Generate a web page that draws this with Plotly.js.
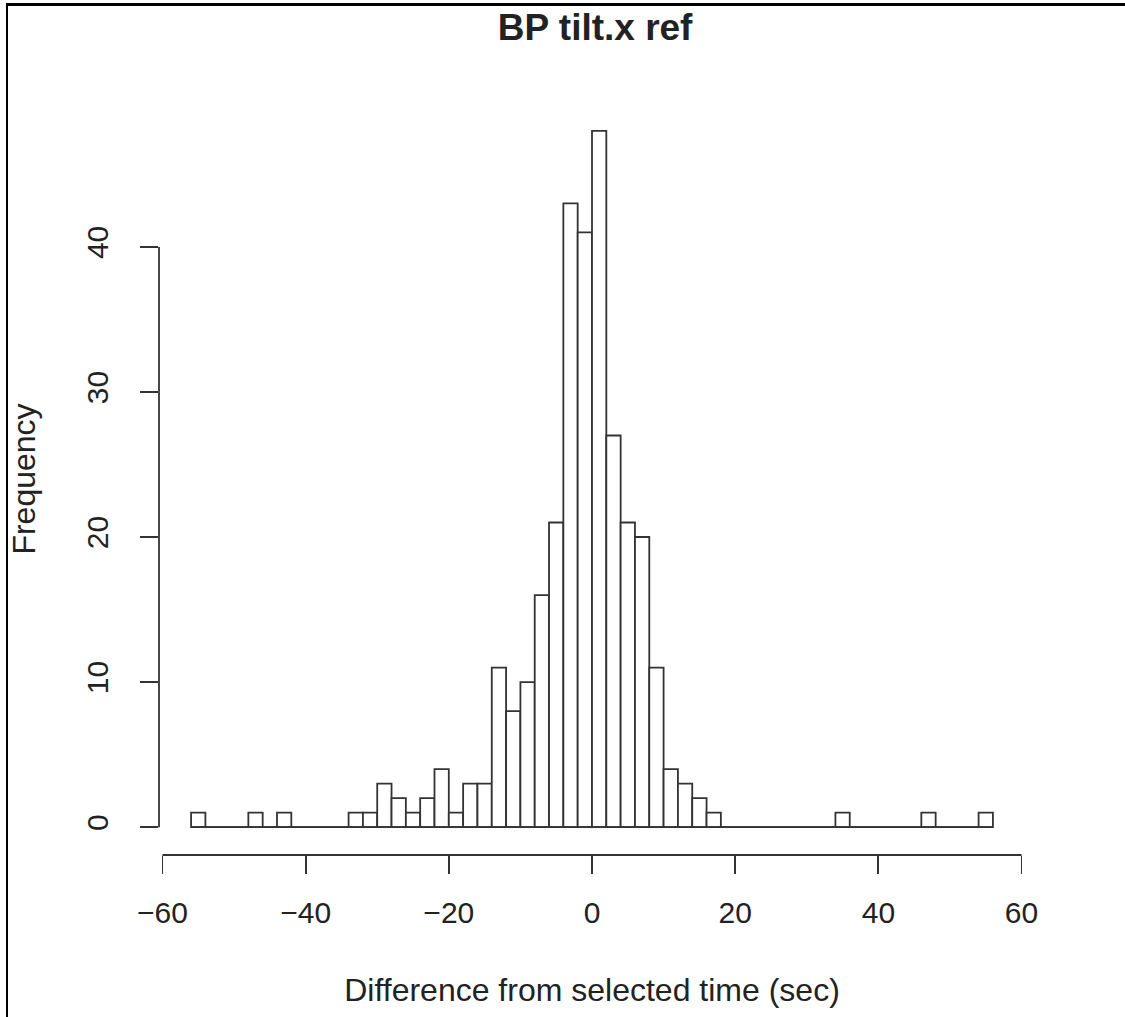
<!DOCTYPE html>
<html>
<head>
<meta charset="utf-8">
<script src="https://cdn.plot.ly/plotly-3.0.1.min.js"></script>
<style>
  html, body { margin: 0; padding: 0; background: #fff; }
  #wrap { position: relative; width: 1125px; height: 1017px; overflow: hidden; }
  #chart { width: 1125px; height: 1017px; }
  #frame { position: absolute; left: 6px; top: 3px; width: 1200px; height: 1100px;
           border-top: 3px solid #000; border-left: 2px solid #000; pointer-events: none; }
</style>
</head>
<body>
<div id="wrap">
  <div id="chart"></div>
  <div id="frame"></div>
</div>
<script>
// Histogram bins (left edges, width 2 sec) and counts
const binStarts = [-56,-54,-52,-50,-48,-46,-44,-42,-40,-38,-36,-34,-32,-30,-28,-26,-24,-22,-20,-18,-16,-14,-12,-10,-8,-6,-4,-2,
                   0,2,4,6,8,10,12,14,16,18,20,22,24,26,28,30,32,34,36,38,40,42,44,46,48,50,52,54];
const counts    = [1,0,0,0,1,0,1,0,0,0,0,1,1,3,2,1,2,4,1,3,3,11,8,10,16,21,43,41,
                   48,27,21,20,11,4,3,2,1,0,0,0,0,0,0,0,0,1,0,0,0,0,0,1,0,0,0,1];
const binWidth = 2;
const xTicks = [-60,-40,-20,0,20,40,60];
const yTicks = [0,10,20,30,40];
const titleText = "BP tilt.x ref";
const xTitle = "Difference from selected time (sec)";
const yTitle = "Frequency";

const ink = "#222";
const fontFam = "'Liberation Sans', Arial, Helvetica, sans-serif";
const xMin = binStarts[0], xMax = binStarts[binStarts.length-1] + binWidth;
const xPad = (xMax - xMin) * 0.04;
const yMaxData = Math.max(...counts);
const yPad = yMaxData * 0.04;

const traces = [
  {
    type: 'scatter', mode: 'lines',
    x: [xMin, xMax], y: [0, 0],
    line: {color: '#333', width: 1.8},
    hoverinfo: 'skip', showlegend: false
  },
  {
    type: 'bar',
    x: binStarts, y: counts,
    width: binWidth, offset: 0,
    marker: {color: '#ffffff', line: {color: '#333', width: 1.8}},
    showlegend: false
  }
];

const layout = {
  width: 1125, height: 1017,
  paper_bgcolor: '#fff', plot_bgcolor: '#fff',
  margin: {l: 158.6, r: 99.6, t: 103.2, b: 162.2, pad: 0},
  font: {family: fontFam, size: 30, color: ink},
  bargap: 0,
  title: {
    text: titleText,
    font: {family: fontFam, size: 37, color: ink, weight: 'bold'},
    x: 0.529, xanchor: 'center',
    y: 1 - 27/1017, yref: 'container', yanchor: 'middle'
  },
  xaxis: {
    range: [xMin - xPad, xMax + xPad],
    tickmode: 'array', tickvals: xTicks, ticktext: xTicks.map(v => v < 0 ? '\u2212' + Math.abs(v) : String(v)),
    ticks: 'outside', ticklen: 18, tickwidth: 1.8, tickcolor: '#333',
    ticklabelstandoff: 13,
    showline: false, showgrid: false, zeroline: false,
    tickfont: {size: 30, color: ink},
    title: {text: xTitle, font: {size: 32, color: ink}, standoff: 50},
    automargin: false, fixedrange: true
  },
  yaxis: {
    range: [-yPad, yMaxData + yPad],
    tickmode: 'array', tickvals: yTicks, ticktext: yTicks.map(String),
    ticks: 'outside', ticklen: 18, tickwidth: 1.8, tickcolor: '#333',
    tickangle: -90, ticklabelstandoff: 20,
    showline: false, showgrid: false, zeroline: false,
    tickfont: {size: 30, color: ink},
    title: {text: yTitle, font: {size: 32, color: ink}, standoff: 35},
    automargin: false, fixedrange: true
  },
  shapes: [
    {type: 'line', xref: 'x', yref: 'paper', x0: xTicks[0], x1: xTicks[xTicks.length-1], y0: 0, y1: 0,
     line: {color: '#333', width: 1.8}},
    {type: 'line', xref: 'paper', yref: 'y', x0: 0, x1: 0, y0: yTicks[0], y1: yTicks[yTicks.length-1],
     line: {color: '#333', width: 1.8}}
  ]
};

Plotly.newPlot('chart', traces, layout, {displayModeBar: false, staticPlot: true});
</script>
</body>
</html>
